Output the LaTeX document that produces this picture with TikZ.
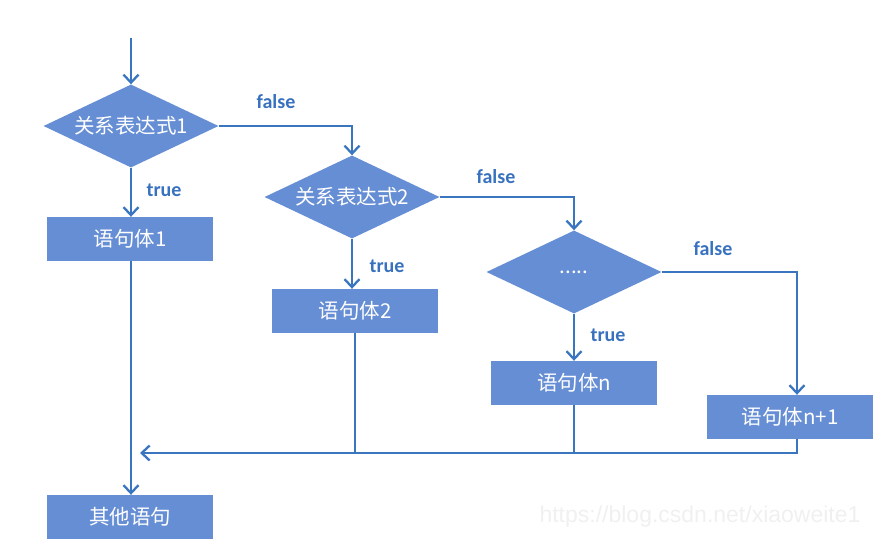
\documentclass[tikz,border=0pt]{standalone}
\usepackage{fontspec}
\setmainfont{Liberation Sans}
\newfontfamily\cjk{Noto Sans CJK SC}
\newfontfamily\lab{Carlito}
\usetikzlibrary{shapes.geometric,arrows.meta}
\definecolor{shapefill}{RGB}{102,142,212}
\definecolor{linecol}{RGB}{58,118,192}
\definecolor{labcol}{RGB}{56,114,190}
\tikzset{
  cond/.style={diamond, aspect=2.1, fill=shapefill, draw=none, inner sep=0pt,
    minimum width=175pt, minimum height=83pt, text=white, font=\cjk\fontsize{20.5}{22}\selectfont},
  stmt/.style={rectangle, fill=shapefill, draw=none, inner sep=0pt,
    minimum width=166pt, minimum height=44pt, text=white, font=\cjk\fontsize{20.5}{22}\selectfont},
  flow/.style={draw=linecol, line width=2.5pt},
  arr/.style={flow, -{Straight Barb[length=8pt,width=15pt,line width=2.3pt]}},
  tf/.style={text=labcol, font=\lab\bfseries\fontsize{20}{22}\selectfont},
  wm/.style={text=black!6, font=\fontsize{23}{26}\selectfont}
}
\begin{document}
\begin{tikzpicture}[x=1pt,y=-1pt]
\useasboundingbox (0,0) rectangle (887,549);
% nodes
\node[cond] (c1) at (131,126) {关系表达式1};
\node[cond] (c2) at (352,197) {关系表达式2};
\node[cond] (c3) at (574,272) {.....};
\node[stmt] (s1) at (130,239) {语句体1};
\node[stmt] (s2) at (355,311) {语句体2};
\node[stmt] (sn) at (574,383) {语句体n};
\node[stmt] (sn1) at (790,417) {语句体n+1};
\node[stmt] (other) at (130,517) {其他语句};
\coordinate (start) at (131,38);
\coordinate (f1) at (352,126);
\coordinate (f2) at (574,197);
\coordinate (f3) at (797,272);
\coordinate (j2) at (355,453);
\coordinate (j3) at (574,453);
\coordinate (j4) at (797,453);
\coordinate (jin) at (140,453);
% connectors
\draw[arr] (start) -- (c1.north);
\draw[arr] (c1.south) -- (c1.south |- s1.north);
\draw[arr] (c1.east) -- (f1) -- (c2.north);
\draw[arr] (c2.south) -- (c2.south |- s2.north);
\draw[arr] (c2.east) -- (f2) -- (c3.north);
\draw[arr] (c3.south) -- (c3.south |- sn.north);
\draw[arr] (c3.east) -- (f3) -- (f3 |- sn1.north);
\draw[arr] (s1.south -| start) -- (other.north -| start);
\draw[flow] (s2.south) -- (j2);
\draw[flow] (sn.south) -- (j3);
\draw[arr] (sn1.south -| f3) -- (j4) -- (jin);
% labels
\node[tf] (l1) at (276,102) {false};
\node[tf] (l2) at (496,177) {false};
\node[tf] (l3) at (713,249) {false};
\node[tf] (t1) at (164,190) {true};
\node[tf] (t2) at (387,266) {true};
\node[tf] (t3) at (608,335) {true};
\node[wm] (wm) at (700,517) {https://blog.csdn.net/xiaoweite1};
\end{tikzpicture}
\end{document}
